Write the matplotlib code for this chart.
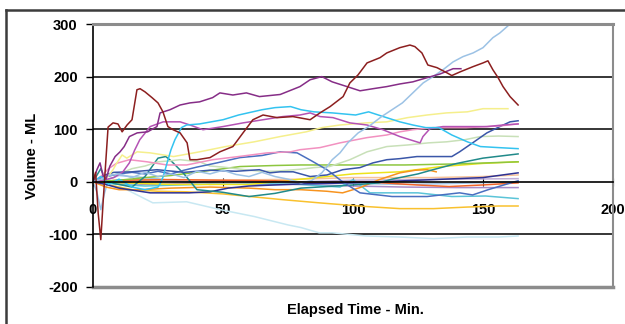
import matplotlib
matplotlib.use("Agg")
import matplotlib.pyplot as plt
from matplotlib.lines import Line2D

plt.rcParams["font.family"] = ["Liberation Sans", "DejaVu Sans"]
plt.rcParams["font.weight"] = "bold"
plt.rcParams["axes.unicode_minus"] = False

# series: (elapsed minutes, volume ml)
maroon = [(0, 0), (1, 18), (2, -60), (3, -110), (4, -30), (5.8, 104), (7.7, 112), (9.6, 110),
          (11.2, 95), (13.1, 108), (15, 118), (16.9, 175), (18.1, 177), (20, 171), (22.7, 160),
          (25, 150), (26.9, 133), (28.8, 105), (30.8, 99), (33.5, 93), (36.2, 74), (37.3, 42),
          (40, 42), (45, 46), (48.8, 57), (53.8, 67), (57.7, 93), (61.5, 118), (65.4, 127),
          (70.8, 122), (76.9, 124), (83.5, 118), (87.3, 131), (91.2, 143), (96.2, 162),
          (98.8, 188), (101.9, 203), (105.4, 226), (110.4, 236), (113, 245), (118, 255),
          (121.9, 260), (123.8, 257), (126.5, 245), (128.8, 222), (132.3, 217), (136.2, 207),
          (138, 202), (141.2, 209), (146.2, 219), (150, 226), (151.9, 230), (153.8, 213),
          (155.8, 198), (157.7, 181), (160.4, 162), (163.5, 146)]
purple = [(0, 0), (1.5, 23), (2.7, 36), (3.8, 13), (5, 5), (6.5, 30), (8.5, 48), (10.4, 57),
          (12, 67), (14, 86), (17, 93), (21, 95), (24.6, 105), (25.8, 131), (29.6, 137),
          (33.5, 146), (37.3, 150), (41, 152), (46, 160), (48.8, 169), (53.8, 165), (59, 169),
          (64, 162), (72, 166), (79.6, 181), (83.5, 194), (88, 200), (92, 190), (97.7, 181),
          (102.7, 173), (107.7, 177), (113, 181), (118, 186), (123, 190), (128.5, 198),
          (133.5, 205), (138.5, 215), (141.5, 215)]
sky = [(0, 0), (3, 5), (6, 12), (10, 15), (15, 8), (20, 18), (25, 10), (30, 15), (35, 8),
       (40, 20), (45, 15), (50, 22), (55, 14), (60, 10), (65, 18), (70, 10), (75, 5), (80, -2),
       (84, 2), (88, 17), (90, 29), (92, 42), (95, 55), (98, 74), (102, 93), (106, 105),
       (111, 124), (115, 137), (119, 150), (123, 169), (127, 188), (130.8, 200), (134.6, 213),
       (138.5, 228), (142.3, 238), (146.2, 245), (150, 255), (153.8, 274), (156.5, 283),
       (160.4, 300), (163, 315)]
cyan = [(0, 0), (3, 10), (6, -5), (10, 5), (15, -10), (20, -15), (25, -10), (26, -2), (27, 10),
        (28.5, 36), (30, 61), (31.5, 80), (34, 103), (36, 108), (41, 110), (50, 118), (56, 127),
        (65, 137), (70, 141), (76, 143), (80, 137), (85, 133), (92, 131), (101, 127), (106, 133),
        (111, 125), (118, 114), (123, 108), (128, 103), (133, 103), (138, 89), (144, 76),
        (149, 67), (156, 65), (163.5, 63)]
pale_yellow = [(0, 0), (5, 5), (7.7, 23), (9.2, 36), (11.2, 51), (13, 45), (17, 57), (22, 55),
               (31, 48), (41, 57), (51, 67), (62, 76), (72, 86), (82, 95), (88, 103), (95, 108),
               (105, 112), (113, 114), (121, 122), (128.5, 127), (136, 131), (144, 133),
               (150, 139), (159.6, 139)]
orchid = [(0, 0), (4, 3), (8, 8), (11.5, 19), (14, 36), (16, 60), (18, 80), (22, 105), (27, 114),
          (33.5, 114), (37.3, 108), (42.3, 99), (50, 105), (57.7, 112), (65.4, 118), (73, 124),
          (79.6, 127), (83.5, 131), (87.3, 124), (92.3, 122), (98.8, 112), (105.4, 108),
          (111.5, 99), (118, 86), (121.9, 80), (125.8, 74), (126.9, 86), (129.6, 101),
          (134.6, 105), (143.5, 105), (151.5, 105), (157.7, 108), (163.5, 110)]
pink = [(0, 0), (3, 10), (6, 25), (9, 35), (14, 42), (20.8, 38), (28.5, 32), (36, 32), (46, 42),
        (56, 48), (67, 55), (76, 57), (79.6, 61), (87.3, 65), (95, 74), (105.4, 84), (113, 89),
        (118, 95), (123, 99), (130.8, 103), (143.5, 103), (156, 106), (163.5, 110)]
blue_up = [(0, 0), (4, 12), (8, 18), (15, 19), (24.6, 23), (35, 18), (45, 22), (55, 20),
           (64, 23), (68, 17), (72, 19), (77, 19), (83.5, 10), (90, 13), (96, 23), (102.7, 27),
           (107.7, 36), (113, 42), (118, 44), (124.6, 48), (130.8, 48), (138, 48), (141, 57),
           (146, 74), (151.5, 93), (156.5, 105), (160.4, 114), (163.5, 116)]
blue_dip = [(0, 0), (5, 10), (10, 15), (15, 18), (20, 15), (25, 20), (30, 15), (35, 22), (40, 28),
            (47.7, 36), (56.5, 46), (65, 50), (72, 57), (78.5, 55), (84, 40), (90, 23), (96, 0),
            (102.7, -21), (115, -28), (128.5, -28), (141, -21), (146, -25), (152, -15),
            (158, -6), (163.5, 2)]
pale_green = [(0, 0), (5, 10), (10, 15), (15, 25), (20, 30), (25, 38), (30, 40), (33.5, 42),
              (41, 38), (45, 30), (50, 28), (55, 25), (60, 22), (65, 20), (70, 20), (75, 22),
              (80, 24), (85, 27), (91, 29), (98.8, 42), (105.4, 57), (113, 67), (121, 70),
              (129, 74), (136, 76), (143, 80), (149, 86), (156, 87), (163.5, 86)]
lime = [(0, 0), (10, 3), (20, 8), (30, 12), (41, 19), (56.5, 29), (70, 31), (80, 32), (100, 32),
        (120, 32), (140, 34), (163.5, 38)]
teal = [(0, 0), (3, 25), (5, 0), (10, -5), (15, -10), (20, 10), (25, 45), (28, 48), (30, 40),
        (35, 15), (40, -15), (50, -20), (60, -28), (70, -22), (80, -12), (100, -6), (110, -2),
        (115, 5), (120, 10), (125, 15), (130, 22), (140, 35), (150, 45), (163.5, 53)]
pale_cyan = [(0, 0), (5, -5), (10, -10), (13, -15), (23, -40), (36, -38), (49, -53), (62, -66),
             (75, -82), (80, -87), (87, -97), (92, -97), (105, -103), (118, -105), (131, -108),
             (144, -105), (156, -105), (163.5, -103)]
golden = [(0, 0), (5, -5), (10, -10), (15, -15), (25, -18), (36, -19), (50, -23), (54, -25),
          (73, -34), (87, -40), (92, -42), (105, -47), (118, -51), (131, -51), (144, -48),
          (156, -46), (163.5, -46)]
orange = [(0, 0), (5, -10), (10, -15), (18, -15), (30, -12), (45, -10), (60, -12), (70, -15),
          (80, -15), (90, -18), (96, -21), (102.7, -11), (110, 4), (118, 17), (124, 22),
          (128.5, 23), (132, 19)]
orange_red = [(0, 0), (10, 3), (30, 4), (50, 3), (70, 2), (87, -2), (105, 0), (124.6, -6),
              (137, -9), (150, -6), (163.5, -2)]
navy = [(0, 0), (5, -5), (10, -12), (22, -21), (37, -21), (45, -19), (52, -12), (60, -8),
        (70, -6), (80, -4), (100, -2), (130, 4), (150, 8), (163.5, 17)]
lavender = [(0, 0), (20, -5), (40, -3), (60, -5), (80, -5), (100, -8), (120, -10), (140, -11),
            (163.5, -11)]
mid_cyan = [(0, 0), (10, -5), (20, -8), (40, -5), (60, -3), (80, -5), (95, -10), (100, 4),
            (106.5, -21), (116, -21), (125, -21), (138, -28), (151, -27), (163.5, -32)]
peach = [(0, 0), (20, 5), (50, 3), (80, 5), (100, 8), (130, 8), (150, 10), (163.5, 13)]
yellow = [(0, 0), (30, -5), (60, -5), (80, 5), (100, 15), (118, 19), (134, 29), (150, 35),
          (163.5, 38)]
sky_dip = [(0, 0), (1.5, -20), (3, -53), (4.5, -20), (6, 5), (10, 12), (20, 8), (30, 3), (45, -5),
           (60, -2), (80, 0), (100, -3), (120, -5), (140, -3), (163.5, 0)]
lilac = [(0, 0), (20, 2), (40, 0), (60, 2), (80, 0), (100, 3), (120, 4), (140, 5), (163.5, 6)]

series = [
    (pale_cyan, "#C8E8F2"), (golden, "#F9C12E"), (peach, "#F7C39A"), (lilac, "#C0AED8"),
    (lavender, "#A88BC8"), (mid_cyan, "#5BC4D8"), (sky_dip, "#9CC2E5"), (yellow, "#EDE31B"),
    (orange_red, "#F2652A"), (orange, "#F7931E"), (navy, "#2E3192"), (lime, "#8DC63F"),
    (teal, "#218A8A"), (pale_green, "#C8E0B8"), (blue_dip, "#4A6FC0"), (blue_up, "#3A56A8"),
    (pink, "#F291C0"), (pale_yellow, "#F5EF8C"), (orchid, "#B452B4"), (cyan, "#33C3F0"),
    (sky, "#9CC2E5"), (purple, "#862D87"), (maroon, "#8C1F1F"),
]

fig = plt.figure(figsize=(6.25, 3.24), dpi=100)
ax = fig.add_axes([93 / 625, 37 / 324, 520 / 625, 263 / 324])

for pts, col in series:
    xs, ys = zip(*pts)
    ax.plot(xs, ys, color=col, lw=1.1)

ax.set_xlim(0, 200)
ax.set_ylim(-200, 300)

for g in [-100, 100, 200]:
    ax.axhline(g, color="black", lw=1.1, zorder=0.5)
ax.axhline(-200, color="#8C8C8C", lw=2.5, clip_on=False)

ax.spines["top"].set_color("#8C8C8C")
ax.spines["top"].set_linewidth(2.2)
ax.spines["right"].set_color("#8C8C8C")
ax.spines["right"].set_linewidth(1.5)
ax.spines["left"].set_color("black")
ax.spines["left"].set_linewidth(1.2)
ax.spines["bottom"].set_position(("data", 0))
ax.spines["bottom"].set_color("black")
ax.spines["bottom"].set_linewidth(1.2)

ax.set_yticks([-200, -100, 0, 100, 200, 300])
ax.set_xticks([0, 50, 100, 150, 200])
ax.tick_params(axis="y", direction="out", length=5, width=1, labelsize=10.5, pad=6)
ax.tick_params(axis="x", direction="inout", length=6, width=0.8, labelsize=10.5, pad=12)
for lab in ax.get_xticklabels() + ax.get_yticklabels():
    lab.set_fontweight("bold")

fig.text(355 / 625, 1 - 310 / 324, "Elapsed Time - Min.", ha="center", va="center",
         fontsize=10.5, fontweight="bold")
fig.text(32 / 625, 1 - 156 / 324, "Volume - ML", ha="center", va="center", rotation=90,
         fontsize=10.5, fontweight="bold")

# outer chart frame (only top and left edges fall inside the image)
fig.add_artist(Line2D([6 / 625, 6 / 625], [0, 1 - 10 / 324], transform=fig.transFigure,
                      color="#3C3C3C", lw=1.8))
fig.add_artist(Line2D([6 / 625, 1], [1 - 10 / 324, 1 - 10 / 324], transform=fig.transFigure,
                      color="#3C3C3C", lw=1.8))

fig.savefig("out.png", dpi=100)
